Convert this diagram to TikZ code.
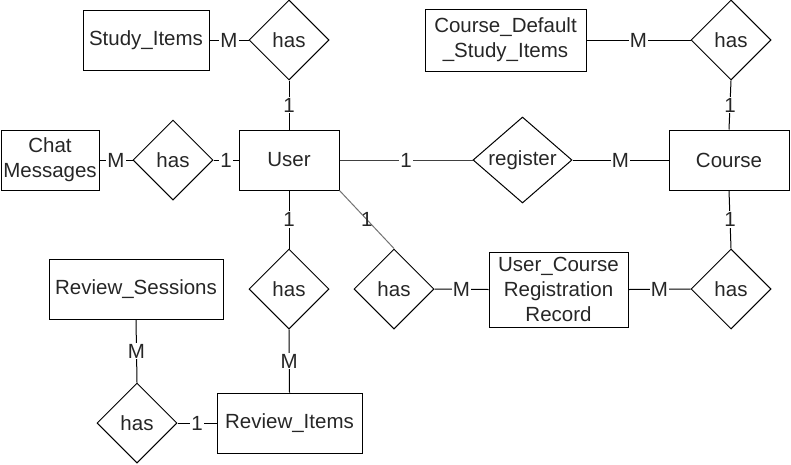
\documentclass[tikz,border=0pt]{standalone}
\usepackage{fontspec}
\setmainfont{Liberation Sans}
\usetikzlibrary{shapes.geometric}
\begin{document}
\begin{tikzpicture}[x=1pt,y=-1pt,line width=1pt,
  every node/.style={font=\fontsize{20.5}{25}\selectfont, text=black!85},
  ent/.style={draw, rectangle, align=center, inner sep=0pt},
  rel/.style={draw, diamond, inner sep=0pt, minimum width=80pt, minimum height=80pt},
  card/.style={fill=white, inner sep=1pt, midway},
  conn/.style={draw=black}]
\useasboundingbox (0,0) rectangle (791,464);
% entities
\node[ent, minimum width=126pt, minimum height=60pt] (si) at (146,40) {Study\_Items};
\node[ent, minimum width=100pt, minimum height=60pt] (user) at (289,160) {User};
\node[ent, minimum width=98pt, minimum height=60pt] (chat) at (50,160) {Chat\\Messages};
\node[ent, minimum width=120pt, minimum height=60pt] (course) at (729,160) {Course};
\node[ent, minimum width=161pt, minimum height=62pt] (cdsi) at (505.5,40) {Course\_Default\\\_Study\_Items};
\node[ent, minimum width=139pt, minimum height=75pt] (urr) at (558.5,289.5) {User\_Course\\Registration\\Record};
\node[ent, minimum width=174pt, minimum height=60pt] (rs) at (136,289) {Review\_Sessions};
\node[ent, minimum width=145pt, minimum height=60pt] (ri) at (289.5,423) {Review\_Items};
% relationships
\node[rel] (h1) at (289,40) {has};
\node[rel] (h2) at (173,160) {has};
\node[rel, minimum width=99pt, minimum height=86pt, shape aspect=1.15] (reg) at (522.5,160) {register};
\node[rel] (h3) at (731,40) {has};
\node[rel] (h4) at (289,289) {has};
\node[rel] (h5) at (394,289) {has};
\node[rel] (h6) at (731,289) {has};
\node[rel] (h7) at (137,423) {has};
% connectors
\draw[conn] (si.east) -- node[card] {M} (h1.west);
\draw[conn] (h1.south) -- node[card] {1} (user.north);
\draw[conn] (chat.east) -- node[card] {M} (h2.west);
\draw[conn] (h2.east) -- node[card] {1} (user.west);
\draw[conn, draw=black!75] (user.east) -- node[card] {1} (reg.west);
\draw[conn] (reg.east) -- node[card] {M} (course.west);
\draw[conn] (cdsi.east) -- node[card] {M} (h3.west);
\draw[conn] (h3.south) -- node[card] {1} (course.north);
\draw[conn] (course.south) -- node[card] {1} (h6.north);
\draw[conn] (urr.east) -- node[card] {M} (h6.west);
\draw[conn] (h5.east) -- node[card] {M} (urr.west);
\draw[conn, draw=black!55] (user.south east) -- node[card, fill=none] {1} (h5.north);
\draw[conn] (user.south) -- node[card] {1} (h4.north);
\draw[conn] (h4.south) -- node[card] {M} (ri.north);
\draw[conn] (rs.south) -- node[card] {M} (h7.north);
\draw[conn] (h7.east) -- node[card] {1} (ri.west);
\end{tikzpicture}
\end{document}
